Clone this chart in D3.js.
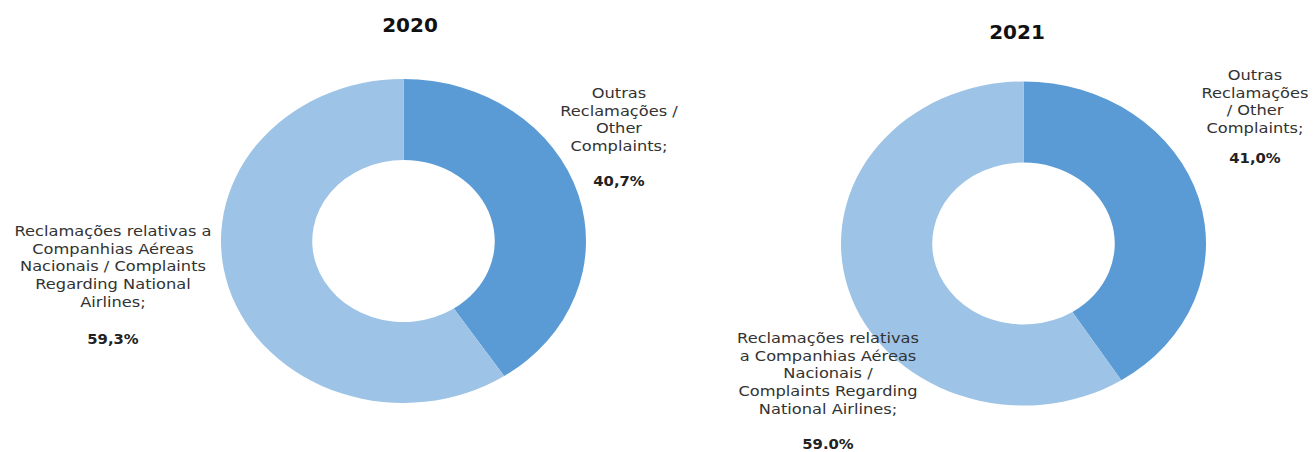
<!DOCTYPE html>
<html>
<head>
<meta charset="utf-8">
<script src="https://cdn.jsdelivr.net/npm/d3@7"></script>
<style>
  html, body { margin: 0; padding: 0; background: #fff; }
  svg { display: block; }
  text { font-family: "DejaVu Sans", Verdana, sans-serif; }
</style>
</head>
<body>
<div id="chart-div"></div>
<script>
// DATA ///////////////////////////////////////////////////////////////////////
const years = ["2020", "2021"];
const categories = ["Outras Reclamações / Other Complaints",
                    "Reclamações relativas a Companhias Aéreas Nacionais / Complaints Regarding National Airlines"];
const values2020 = [40.7, 59.3];
const values2021 = [41.0, 59.0];
const pctLabels2020 = ["40,7%", "59,3%"];
const pctLabels2021 = ["41,0%", "59.0%"];
// how each category label is wrapped in each chart
const lines2020 = [["Outras", "Reclamações /", "Other", "Complaints;"],
                   ["Reclamações relativas a", "Companhias Aéreas", "Nacionais / Complaints", "Regarding National", "Airlines;"]];
const lines2021 = [["Outras", "Reclamações", "/ Other", "Complaints;"],
                   ["Reclamações relativas", "a Companhias Aéreas", "Nacionais /", "Complaints Regarding", "National Airlines;"]];
const colors = ["#5b9bd5", "#9dc3e6"];

(function() {
    const width = 1313, height = 452;
    const ry = 162, rx = 182.5;   // the donuts are drawn stretched sideways
    const sx = rx / ry;
    const textStretch = 1.16;     // labels are stretched too
    const pctStretch = 1.06;

    // layout of each chart: donut centre, title and label anchors
    const layout = [
        {cx: 403.5, cy: 241, titleX: 410, titleY: 32,
         labels: [{x: 619, y: 98, pctY: 186}, {x: 113, y: 236, pctY: 344}]},
        {cx: 1023.5, cy: 243.5, titleX: 1017, titleY: 39,
         labels: [{x: 1255, y: 80, pctY: 163}, {x: 828, y: 343, pctY: 449}]}
    ];
    const charts = [
        {year: years[0], values: values2020, pct: pctLabels2020, lines: lines2020},
        {year: years[1], values: values2021, pct: pctLabels2021, lines: lines2021}
    ];

    const svg = d3.select("#chart-div").append("svg")
        .attr("width", width)
        .attr("height", height);

    const pie = d3.pie().sort(null).value(d => d);
    const arc = d3.arc().innerRadius(ry * 0.5).outerRadius(ry);
    const color = d3.scaleOrdinal().domain(categories).range(colors);

    charts.forEach(function(c, i) {
        const L = layout[i];

        svg.append("text")
            .attr("x", L.titleX)
            .attr("y", L.titleY)
            .attr("text-anchor", "middle")
            .attr("font-size", 20)
            .attr("font-weight", "bold")
            .attr("fill", "#111")
            .text(c.year);

        const g = svg.append("g")
            .attr("transform", `translate(${L.cx},${L.cy}) scale(${sx},1)`);
        g.selectAll("path")
            .data(pie(c.values))
            .enter().append("path")
            .attr("d", arc)
            .attr("fill", (d, j) => color(categories[j]));

        // category labels with percentages
        c.lines.forEach(function(lines, j) {
            const p = L.labels[j];
            const t = svg.append("g")
                .attr("transform", `translate(${p.x},0) scale(${textStretch},1)`)
                .append("text")
                .attr("text-anchor", "middle")
                .attr("font-size", 14)
                .attr("fill", "#333");
            t.selectAll("tspan")
                .data(lines)
                .enter().append("tspan")
                .attr("x", 0)
                .attr("y", (d, k) => p.y + k * 17.7)
                .text(d => d);
            svg.append("g")
                .attr("transform", `translate(${p.x},0) scale(${pctStretch},1)`)
                .append("text")
                .attr("x", 0)
                .attr("y", p.pctY)
                .attr("text-anchor", "middle")
                .attr("font-size", 14)
                .attr("font-weight", "bold")
                .attr("fill", "#222")
                .text(c.pct[j]);
        });
    });
})();
</script>
</body>
</html>
